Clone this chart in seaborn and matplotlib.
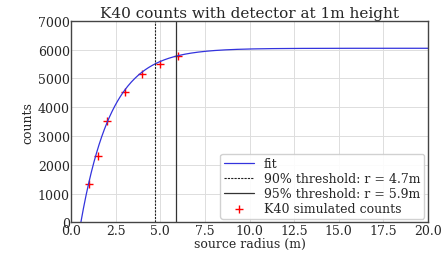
import matplotlib
matplotlib.use("Agg")
import matplotlib.pyplot as plt
import numpy as np
import pandas as pd
import seaborn as sns

# simulated counts
radius = [1.0, 1.5, 2.0, 3.0, 4.0, 5.0, 6.0]
counts = [1330, 2300, 3520, 4540, 5170, 5520, 5790]

# fit parameters: counts = A * (1 - exp(-k * (r - r0)))
fit_A = 6050
fit_k = 0.58
fit_r0 = 0.55

r90 = 4.7
r95 = 5.9

sns.set_theme(style="whitegrid")
plt.rcParams["font.family"] = ["DejaVu Serif"]
plt.rcParams["font.size"] = 9

fig = plt.figure(figsize=(4.44, 2.55), dpi=100)
ax = fig.add_axes([0.16, 0.124, 0.804, 0.79])

r_fit = np.linspace(fit_r0, 20, 400)
fit_df = pd.DataFrame({"r": r_fit, "c": fit_A * (1 - np.exp(-fit_k * (r_fit - fit_r0)))})
sns.lineplot(data=fit_df, x="r", y="c", ax=ax, color="#3333dd", lw=0.9, label="fit")
ax.axvline(r90, color="#222222", ls=(0, (2, 1)), lw=0.8, label="90% threshold: r = 4.7m")
ax.axvline(r95, color="#333333", ls="-", lw=0.9, label="95% threshold: r = 5.9m")
pts = pd.DataFrame({"r": radius, "c": counts})
sns.scatterplot(data=pts, x="r", y="c", ax=ax, marker="+", color="red", s=30,
                linewidth=1.0, label="K40 simulated counts")

ax.set_xlim(0, 20)
ax.set_ylim(0, 7000)
ax.set_xticks(np.arange(0, 20.1, 2.5))
ax.set_yticks(np.arange(0, 7001, 1000))
ax.set_xlabel("source radius (m)", fontsize=9, labelpad=0)
ax.set_ylabel("counts", fontsize=9, labelpad=2)
ax.set_title("K40 counts with detector at 1m height", fontsize=11, pad=3)
ax.tick_params(labelsize=9, pad=1, length=0)
ax.grid(color="#dddddd", lw=0.7)
for s in ax.spines.values():
    s.set_color("#444444")
    s.set_linewidth(1.0)

ax.legend(loc="lower right", fontsize=9, frameon=True, framealpha=0.9,
          edgecolor="#cccccc", handlelength=2.4, borderpad=0.3, labelspacing=0.15,
          borderaxespad=0.3)

fig.savefig("out.png", dpi=100)
